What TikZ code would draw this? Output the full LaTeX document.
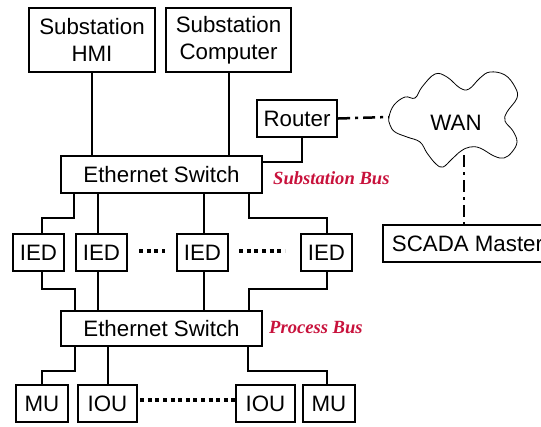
\documentclass[tikz,border=0pt]{standalone}
\usepackage{fontspec}
\setmainfont{Liberation Sans}
\newfontfamily\busfont{Liberation Serif}
\usetikzlibrary{calc}
\definecolor{busred}{RGB}{200,18,60}

\begin{document}
\begin{tikzpicture}[x=1pt,y=-1pt,
  box/.style={draw,line width=2.4pt,inner sep=0pt,minimum height=37pt,
    font=\fontsize{22.3}{27}\selectfont,align=center},
  link/.style={line width=2.3pt},
  thinlink/.style={line width=1.4pt},
  wanlink/.style={line width=2.5pt,dash pattern=on 12pt off 5pt on 3pt off 5pt},
  dotrow/.style={line width=3.5pt,dash pattern=on 4pt off 3.6pt},
  buslabel/.style={anchor=west,inner sep=0pt,text=busred,
    font=\busfont\bfseries\itshape\fontsize{18.6}{20}\selectfont}]
\useasboundingbox (0,0) rectangle (541,426);
\clip (0,0) rectangle (541,426);

% station level
\node[box,minimum width=126pt,minimum height=64pt] (hmi) at (92,40) {Substation\\HMI};
\node[box,minimum width=125pt,minimum height=64pt] (comp) at (228.5,40) {Substation\\Computer};
\node[box,minimum width=80pt] (router) at (297,118.5) {Router};
\node[box,minimum width=201pt] (sw1) at (161.5,174.5) {Ethernet Switch};
\node[buslabel] (subbus) at (273,178) {Substation Bus};

% wide area network
\draw[line width=0.8pt] plot[smooth cycle,tension=0.65] coordinates {
  (389,117) (394,105) (405,97) (415,98) (422,87) (435,74) (447,77)
  (460,88) (469,89) (480,78) (490,72) (505,75) (515,87) (517,98)
  (507,112) (505,121) (513,131) (517,142) (512,152) (504,158)
  (494,156) (480,148) (470,147) (461,151) (452,159) (443,167)
  (436,164) (427,153) (420,142) (407,137) (395,132) (390,125)};
\node[font=\fontsize{22.3}{27}\selectfont] (wan) at (456,123) {WAN};
\coordinate (wanL) at (389,117);
\coordinate (wanB) at (464,155);
\node[box,minimum width=169pt] (scada) at (467.5,243.5) {SCADA Master};

% bay level
\node[box,minimum width=51pt] (ied1) at (38.5,252.5) {IED};
\node[box,minimum width=51pt] (ied2) at (101.5,252.5) {IED};
\node[box,minimum width=51pt] (ied3) at (202.5,252.5) {IED};
\node[box,minimum width=51pt] (ied4) at (326.5,252.5) {IED};
\node[box,minimum width=201pt,minimum height=35pt] (sw2) at (161.5,328.5) {Ethernet Switch};
\node[buslabel] (procbus) at (269,328) {Process Bus};

% process level
\node[box,minimum width=52pt] (mu1) at (42,403.5) {MU};
\node[box,minimum width=59pt] (iou1) at (107.5,403.5) {IOU};
\node[box,minimum width=59pt] (iou2) at (265.5,403.5) {IOU};
\node[box,minimum width=52pt] (mu2) at (329,403.5) {MU};

% tap points on the box edges
\coordinate (compT) at ($(comp.south)+(0.5,0)$);
\coordinate (ied2T) at ($(ied2.north)+(-3.5,0)$);
\coordinate (ied2B) at ($(ied2.south)+(-3.5,0)$);
\coordinate (ied3T) at ($(ied3.north)+(1.5,0)$);
\coordinate (ied3B) at ($(ied3.south)+(1.5,0)$);
\coordinate (iou1T) at ($(iou1.north)+(0.5,0)$);

% station bus
\draw[thinlink] (hmi.south) -- (hmi.south |- sw1.north);
\draw[thinlink] (compT) -- (compT |- sw1.north);
\draw[link] ($(router.south)+(5,0)$) |- ($(sw1.north east)+(0,7)$);
\draw[wanlink] (router.east) -- (wanL);
\draw[wanlink] (wanB) -- (wanB |- scada.north);

% switch to IEDs
\draw[link] ($(sw1.south west)+(14,0)$) -- ++(0,24) -| ($(ied1.north)+(3.5,0)$);
\draw[link] (ied2T) -- (ied2T |- sw1.south);
\draw[thinlink] (ied3T) -- (ied3T |- sw1.south);
\draw[link] ($(sw1.south east)+(-14,0)$) -- ++(0,24) -| ($(ied4.north)+(0.5,0)$);

% IEDs to process switch
\draw[link] ($(ied1.south)+(3.5,0)$) -- ++(0,17) -| ($(sw2.north west)+(15,0)$);
\draw[link] (ied2B) -- (ied2B |- sw2.north);
\draw[thinlink] (ied3B) -- (ied3B |- sw2.north);
\draw[link] ($(ied4.south)+(0.5,0)$) -- ++(0,17) -| ($(sw2.north east)+(-14,0)$);

% process switch to merging units and I/O units
\draw[link] ($(sw2.south west)+(15,0)$) -- ++(0,24) -| (mu1.north);
\draw[link] (iou1T) -- (iou1T |- sw2.south);
\draw[link] ($(sw2.south east)+(-15,0)$) -- ++(0,24) -| ($(mu2.north)+(-2,0)$);

% continuation dots
\draw[dotrow] ($(ied2.east)+(11,-1.5)$) -- ($(ied3.west)+(-11,-1.5)$);
\draw[dotrow] ($(ied3.east)+(10,-1.5)$) -- ($(ied4.west)+(-15,-1.5)$);
\draw[dotrow] ($(iou1.east)+(2,-3.5)$) -- ($(iou2.west)+(0,-3.5)$);
\end{tikzpicture}
\end{document}
